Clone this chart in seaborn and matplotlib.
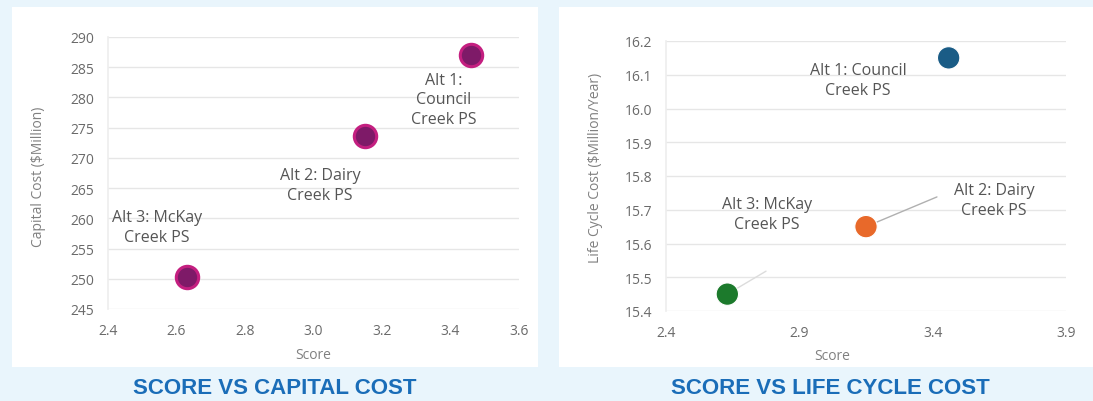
import matplotlib
matplotlib.use("Agg")
import matplotlib.pyplot as plt
import seaborn as sns
import pandas as pd
from matplotlib.patches import Rectangle

# ---- data ----
alternatives = ["Alt 1: Council Creek PS", "Alt 2: Dairy Creek PS", "Alt 3: McKay Creek PS"]
scores = [3.46, 3.15, 2.63]
capital_cost = [287.0, 273.7, 250.3]
life_cycle_cost = [16.15, 15.65, 15.45]

left_labels = ["Alt 1:\nCouncil\nCreek PS", "Alt 2: Dairy\nCreek PS", "Alt 3: McKay\nCreek PS"]
right_labels = ["Alt 1: Council\nCreek PS", "Alt 2: Dairy\nCreek PS", "Alt 3: McKay\nCreek PS"]
left_xticks = [2.4, 2.6, 2.8, 3.0, 3.2, 3.4, 3.6]
left_yticks = [245, 250, 255, 260, 265, 270, 275, 280, 285, 290]
right_xticks = [2.4, 2.9, 3.4, 3.9]
right_yticks = [15.4, 15.5, 15.6, 15.7, 15.8, 15.9, 16.0, 16.1, 16.2]

# label positions (data coords) for annotations
left_text_pos = [(3.381, 279.7), (3.019, 265.5), (2.543, 258.6)]
right_text_pos = [(3.12, 16.084), (3.63, 15.729), (2.779, 15.687)]
right_leader_end = [None, (3.416, 15.738), (2.775, 15.518)]

df = pd.DataFrame({"Alternative": alternatives, "Score": scores,
                   "Capital": capital_cost, "LCC": life_cycle_cost})

sns.set_theme(style="white")
plt.rcParams["font.family"] = ["Open Sans", "DejaVu Sans"]

BG = "#e9f5fc"
TXT = "#555555"
GRID = "#e6e6e6"
TITLE = "#1a6db8"

fig = plt.figure(figsize=(10.93, 4.02), dpi=100, facecolor=BG)
W, H = 1093, 402

def px_rect(x0, y0, x1, y1):
    return [x0 / W, 1 - y1 / H, (x1 - x0) / W, (y1 - y0) / H]

# white panels
for (x0, y0, x1, y1) in [(12, 8, 538, 368), (559, 8, 1093, 368)]:
    r = px_rect(x0, y0, x1, y1)
    fig.patches.append(Rectangle((r[0], r[1]), r[2], r[3], transform=fig.transFigure,
                                 facecolor="white", edgecolor="none", zorder=-5))

ax1 = fig.add_axes(px_rect(108, 38, 519, 310))
ax2 = fig.add_axes(px_rect(666, 42, 1066, 312))

for ax in (ax1, ax2):
    ax.set_zorder(1)
    ax.patch.set_alpha(0)
    for s in ax.spines.values():
        s.set_visible(False)
    ax.tick_params(axis="both", length=0, labelsize=10, labelcolor="#6a6a6a", pad=10)
    ax.grid(axis="y", color=GRID, linewidth=1.0)
    ax.grid(axis="x", visible=False)
    ax.set_axisbelow(True)
    ax.spines["left"].set_visible(True)
    ax.spines["left"].set_color("#eeeeee")

# left chart
sns.scatterplot(data=df, x="Score", y="Capital", ax=ax1, s=260, color="#7e1a68",
                edgecolor="#c41f80", linewidth=2.2, legend=False, zorder=3)
ax1.set_xlim(2.4, 3.6)
ax1.set_ylim(245, 290)
ax1.set_xticks(left_xticks)
ax1.set_xticklabels([f"{v:.1f}" for v in left_xticks])
ax1.set_yticks(left_yticks)
ax1.set_xlabel("Score", fontsize=10, color="#808080")
ax1.set_ylabel("Capital Cost ($Million)", fontsize=10, color="#808080")
ax1.xaxis.set_label_coords(0.499, -0.14)
ax1.yaxis.set_label_coords(-0.151, 0.489)
for lab, (tx, ty) in zip(left_labels, left_text_pos):
    ax1.text(tx, ty, lab, ha="center", va="center", fontsize=11.5, color=TXT,
             linespacing=1.3, zorder=4)

# right chart
right_colors = ["#1a5c86", "#e8692a", "#1c7a2c"]
sns.scatterplot(data=df, x="Score", y="LCC", hue="Alternative", palette=right_colors,
                ax=ax2, s=260, edgecolor="white", linewidth=0.8, legend=False, zorder=3)
ax2.set_xlim(2.4, 3.9)
ax2.set_ylim(15.4, 16.2)
ax2.set_xticks(right_xticks)
ax2.set_xticklabels([f"{v:.1f}" for v in right_xticks])
ax2.set_yticks(right_yticks)
ax2.set_yticklabels([f"{v:.1f}" for v in right_yticks])
ax2.set_xlabel("Score", fontsize=10, color="#808080")
ax2.set_ylabel("Life Cycle Cost ($Million/Year)", fontsize=10, color="#808080")
ax2.xaxis.set_label_coords(0.415, -0.137)
ax2.yaxis.set_label_coords(-0.1575, 0.533)
for i, (lab, (tx, ty)) in enumerate(zip(right_labels, right_text_pos)):
    ax2.text(tx, ty, lab, ha="center", va="center", fontsize=11.5, color=TXT,
             linespacing=1.3, zorder=4)
    end = right_leader_end[i]
    if end is not None:
        ax2.plot([scores[i], end[0]], [life_cycle_cost[i], end[1]],
                 color="#b0b0b0" if i == 1 else "#dcdcdc", linewidth=1, zorder=2)

# titles
fig.text(275 / W, 1 - 389 / H, "SCORE VS CAPITAL COST", ha="center", va="center",
         fontsize=16, fontweight="bold", color=TITLE, family=["Liberation Sans", "DejaVu Sans"])
fig.text(830 / W, 1 - 389 / H, "SCORE VS LIFE CYCLE COST", ha="center", va="center",
         fontsize=16, fontweight="bold", color=TITLE, family=["Liberation Sans", "DejaVu Sans"])

fig.savefig("out.png", dpi=100, facecolor=BG)
